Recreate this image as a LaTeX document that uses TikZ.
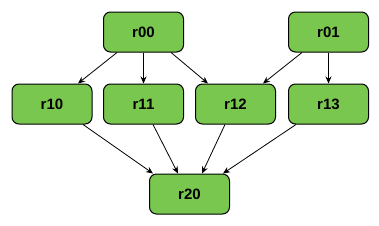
\documentclass[tikz,border=0pt]{standalone}
\usepackage{fontspec}
\setmainfont{Liberation Sans}
\usetikzlibrary{arrows.meta}
\definecolor{regfill}{HTML}{7AC74F}
\begin{document}
\begin{tikzpicture}[
    x=1pt, y=-1pt,
    reg/.style={rectangle, rounded corners=7pt, draw=black, line width=1pt, fill=regfill,
        minimum width=80pt, minimum height=40pt, font=\bfseries\fontsize{15}{17}\selectfont},
    arrow/.style={-{Stealth[length=7pt, width=6pt]}, line width=0.8pt}
]
    \useasboundingbox (0,0) rectangle (379,225);

    % Registers, by row
    \node[reg] (r00) at (143.5,32) {r00};
    \node[reg] (r01) at (328.5,32) {r01};
    \node[reg] (r10) at (52,104) {r10};
    \node[reg] (r11) at (143.5,104) {r11};
    \node[reg] (r12) at (235.5,104) {r12};
    \node[reg] (r13) at (328.5,104) {r13};
    \node[reg] (r20) at (189.5,194) {r20};

    % First row to second row
    \draw[arrow] ([xshift=-26.5pt]r00.south) -- ([xshift=26pt]r10.north);
    \draw[arrow] (r00.south) -- (r11.north);
    \draw[arrow] ([xshift=27.5pt]r00.south) -- ([xshift=-27.5pt]r12.north);
    \draw[arrow] ([xshift=-26.5pt]r01.south) -- ([xshift=27.5pt]r12.north);
    \draw[arrow] (r01.south) -- (r13.north);

    % Second row to r20
    \draw[arrow] ([xshift=31pt]r10.south) -- ([xshift=-36.5pt]r20.north);
    \draw[arrow] ([xshift=9.5pt]r11.south) -- ([xshift=-11.5pt]r20.north);
    \draw[arrow] ([xshift=-10.5pt]r12.south) -- ([xshift=12.5pt]r20.north);
    \draw[arrow] ([xshift=-32.5pt]r13.south) -- ([xshift=33.5pt]r20.north);
\end{tikzpicture}
\end{document}
